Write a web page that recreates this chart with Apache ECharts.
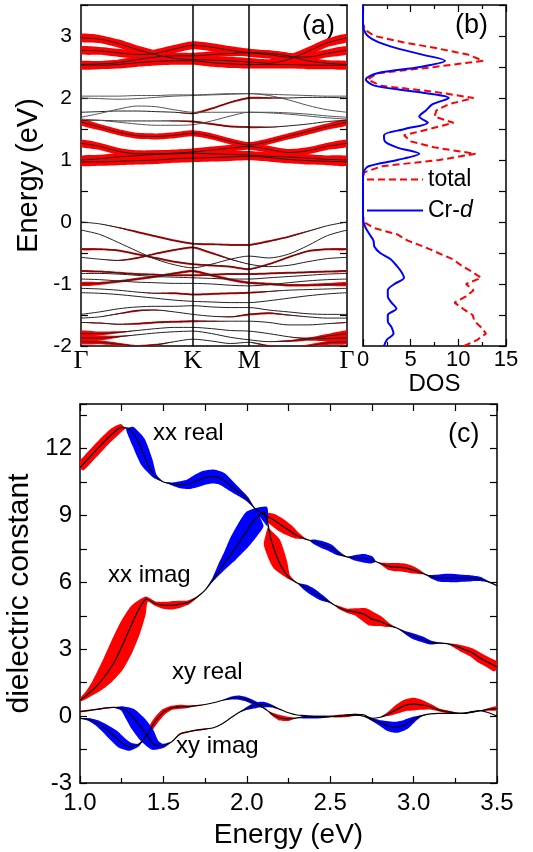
<!DOCTYPE html>
<html><head><meta charset="utf-8">
<script src="https://cdn.jsdelivr.net/npm/echarts@6/dist/echarts.min.js"></script>
<style>html,body{margin:0;padding:0;background:#fff}#c{width:533px;height:852px}</style>
</head><body><div id="c"></div><script>
// ---------- panel (a): band structure ----------
const kPath = [0, 0.070, 0.140, 0.211, 0.281, 0.351, 0.421, 0.491, 0.562, 0.632, 0.706, 0.779, 0.853, 0.926, 1.0];
const highSymK = [0, 0.421, 0.632, 1.0];
const highSymLabels = ['Γ', 'K', 'M', 'Γ'];

const conductionBands = [
  [2.97, 2.95, 2.88, 2.78, 2.70, 2.64, 2.62, 2.61, 2.60, 2.58, 2.56, 2.62, 2.75, 2.89, 2.97],
  [2.77, 2.76, 2.73, 2.70, 2.72, 2.79, 2.85, 2.82, 2.77, 2.73, 2.70, 2.66, 2.66, 2.72, 2.77],
  [2.54, 2.55, 2.57, 2.62, 2.66, 2.68, 2.68, 2.70, 2.72, 2.73, 2.72, 2.68, 2.60, 2.56, 2.54],
  [2.53, 2.53, 2.54, 2.57, 2.59, 2.60, 2.60, 2.57, 2.55, 2.54, 2.54, 2.54, 2.53, 2.53, 2.53],
  [2.03, 2.03, 2.03, 2.04, 2.04, 2.05, 2.05, 2.06, 2.07, 2.07, 2.06, 2.05, 2.04, 2.03, 2.03],
  [2.00, 1.99, 1.98, 1.99, 2.01, 2.03, 2.04, 2.05, 2.06, 2.07, 2.04, 1.97, 1.88, 1.81, 1.77],
  [1.77, 1.78, 1.79, 1.79, 1.78, 1.77, 1.75, 1.83, 1.93, 2.00, 2.00, 2.00, 2.01, 2.01, 2.00],
  [1.69, 1.75, 1.82, 1.87, 1.86, 1.81, 1.77, 1.77, 1.77, 1.77, 1.77, 1.76, 1.74, 1.71, 1.69],
  [1.64, 1.64, 1.63, 1.63, 1.63, 1.63, 1.62, 1.58, 1.54, 1.53, 1.53, 1.55, 1.58, 1.62, 1.64],
  [1.66, 1.64, 1.61, 1.58, 1.56, 1.56, 1.57, 1.63, 1.71, 1.77, 1.76, 1.74, 1.71, 1.68, 1.66],
  [1.61, 1.53, 1.45, 1.39, 1.38, 1.40, 1.43, 1.38, 1.30, 1.24, 1.30, 1.38, 1.46, 1.54, 1.61],
  [1.27, 1.22, 1.14, 1.10, 1.10, 1.11, 1.13, 1.16, 1.19, 1.22, 1.17, 1.12, 1.15, 1.22, 1.27],
  [1.00, 1.02, 1.05, 1.07, 1.09, 1.10, 1.11, 1.10, 1.09, 1.08, 1.06, 1.05, 1.03, 1.01, 1.00],
  [0.97, 0.97, 0.98, 0.99, 1.00, 1.02, 1.03, 1.04, 1.05, 1.06, 1.04, 1.01, 0.99, 0.98, 0.97]
];
const conductionWeights = [
  8, 8, 6, 8, 0, 0,
  [0, 0, 0, 0, 0, 0, 1.5, 2, 2, 2, 1.5, 0, 0, 0, 0],
  0,
  [0, 0, 0, 0, 0, 1, 2, 2, 2, 2, 1, 0, 0, 0, 0],
  0, 6, 7, 8, 8
];

const valenceBands = [
  [0.00, -0.03, -0.09, -0.16, -0.23, -0.30, -0.35, -0.36, -0.37, -0.37, -0.31, -0.24, -0.15, -0.06, 0.00],
  [-0.13, -0.20, -0.33, -0.47, -0.60, -0.69, -0.74, -0.68, -0.60, -0.55, -0.58, -0.52, -0.38, -0.22, -0.13],
  [-0.44, -0.44, -0.46, -0.52, -0.58, -0.64, -0.68, -0.70, -0.72, -0.76, -0.68, -0.57, -0.47, -0.44, -0.44],
  [-0.57, -0.60, -0.62, -0.58, -0.51, -0.45, -0.41, -0.50, -0.60, -0.68, -0.72, -0.70, -0.64, -0.59, -0.57],
  [-0.79, -0.80, -0.82, -0.84, -0.85, -0.86, -0.86, -0.85, -0.84, -0.84, -0.83, -0.82, -0.81, -0.80, -0.79],
  [-0.83, -0.83, -0.84, -0.86, -0.88, -0.89, -0.90, -0.91, -0.92, -0.92, -0.90, -0.88, -0.86, -0.84, -0.83],
  [-1.00, -0.99, -0.96, -0.92, -0.88, -0.83, -0.79, -0.86, -0.93, -0.98, -1.00, -1.02, -1.02, -1.01, -1.00],
  [-0.92, -0.93, -0.95, -0.97, -0.98, -0.99, -0.99, -1.00, -1.02, -1.03, -1.01, -0.98, -0.95, -0.93, -0.92],
  [-1.07, -1.08, -1.10, -1.13, -1.15, -1.15, -1.17, -1.16, -1.15, -1.14, -1.12, -1.10, -1.09, -1.08, -1.07],
  [-1.14, -1.15, -1.17, -1.20, -1.23, -1.26, -1.28, -1.29, -1.30, -1.30, -1.27, -1.23, -1.19, -1.16, -1.14],
  [-1.49, -1.45, -1.40, -1.37, -1.36, -1.36, -1.35, -1.37, -1.38, -1.38, -1.42, -1.45, -1.48, -1.49, -1.49],
  [-1.55, -1.53, -1.48, -1.43, -1.42, -1.45, -1.49, -1.52, -1.53, -1.49, -1.47, -1.50, -1.53, -1.55, -1.55],
  [-1.62, -1.63, -1.65, -1.64, -1.62, -1.61, -1.60, -1.60, -1.60, -1.60, -1.62, -1.66, -1.66, -1.64, -1.62],
  [-1.80, -1.80, -1.78, -1.75, -1.72, -1.70, -1.70, -1.72, -1.75, -1.76, -1.80, -1.85, -1.88, -1.84, -1.80],
  [-1.87, -1.87, -1.85, -1.82, -1.79, -1.77, -1.76, -1.80, -1.86, -1.90, -1.93, -1.92, -1.89, -1.88, -1.87],
  [-1.93, -1.94, -1.97, -2.00, -1.98, -1.93, -1.89, -1.92, -1.96, -1.94, -2.00, -2.05, -2.00, -1.95, -1.93]
];
const valenceWeights = [
  [0, 0, 1, 2, 2, 2, 2, 2, 2, 2, 2, 2, 1, 0, 0],
  0,
  2,
  [0, 0, 1, 2, 2, 2, 2, 2, 1, 0, 0, 0, 0, 0, 0],
  2,
  0,
  [4, 3, 2.5, 2.5, 2.5, 2.5, 2.5, 2.5, 2.5, 2.5, 2.5, 2.5, 2.5, 3, 4],
  0,
  [0, 0, 0, 0, 1, 2, 2, 2, 2, 2, 1, 0, 0, 0, 0],
  0,
  0,
  [0, 0, 1, 2, 1, 0, 0, 0, 1, 2, 2, 1, 0, 0, 0],
  [1, 1, 1, 2, 2, 2, 2, 1, 0, 0, 0, 0, 0, 0, 1],
  [6, 4, 2, 0, 0, 0, 0, 0, 0, 0, 0, 0, 2, 4, 6],
  [6, 5, 2, 0, 0, 0, 0, 0, 0, 0, 0, 2, 3, 5, 6],
  [5, 4, 3, 2, 2, 0, 0, 0, 0, 0, 2, 2, 3, 4, 5]
];

// ---------- panel (b): DOS ----------
const dosEnergy = [-2.0,-1.9,-1.8,-1.7,-1.6,-1.5,-1.4,-1.3,-1.2,-1.1,-1.0,-0.9,-0.8,-0.7,-0.6,-0.5,-0.4,-0.3,-0.2,-0.1,
  0.0,0.1,0.2,0.3,0.4,0.5,0.6,0.7,0.8,0.9,1.0,1.1,1.2,1.3,1.4,1.5,1.6,1.7,1.8,1.9,
  2.0,2.1,2.2,2.3,2.4,2.5,2.6,2.7,2.8,2.9,3.0,3.1,3.2,3.3,3.4,3.5];
const dosTotal = [10.6,12.0,12.9,12.4,11.7,11.5,10.5,9.6,10.8,11.6,10.8,12.4,11.4,10.3,9.4,7.9,6.4,4.7,3.6,1.2,
  0.1,0,0,0,0,0,0,0,0.1,2.0,8.0,11.8,7.6,5.0,4.3,7.0,9.5,7.5,7.7,9.0,
  11.6,7.5,1.8,0.5,1.5,7.5,12.6,11.0,7.8,4.2,1.2,0.2,0,0,0,0];
const dosCrD = [2.2,2.5,3.2,3.0,2.6,2.6,3.5,3.0,2.6,2.6,3.3,4.3,4.0,3.5,2.9,1.8,1.2,1.1,0.7,0.3,
  0.05,0,0,0,0,0,0,0,0.05,0.6,3.6,5.9,3.6,2.3,2.2,4.4,6.8,5.9,6.6,7.3,
  9.0,5.6,1.2,0.3,1.5,6.0,8.6,6.2,3.6,1.6,0.5,0.1,0,0,0,0];

// ---------- panel (c): dielectric constant ----------
const photonEnergy = [1.00,1.05,1.10,1.15,1.20,1.25,1.30,1.35,1.40,1.45,1.50,1.55,1.60,1.65,1.70,1.75,1.80,1.85,1.90,1.95,
  2.00,2.05,2.10,2.15,2.20,2.25,2.30,2.35,2.40,2.45,2.50,2.55,2.60,2.65,2.70,2.75,2.80,2.85,2.90,2.95,
  3.00,3.05,3.10,3.15,3.20,3.25,3.30,3.35,3.40,3.45,3.50];
const xxReal = [11.15,11.55,11.95,12.35,12.70,12.95,12.85,12.30,11.40,10.75,10.50,10.42,10.38,10.40,10.55,10.70,10.75,10.65,10.35,10.05,
  9.75,9.30,9.05,8.85,8.60,8.35,8.10,7.95,7.83,7.70,7.55,7.30,7.14,7.10,7.08,7.00,6.85,6.72,6.68,6.65,
  6.55,6.42,6.27,6.20,6.20,6.19,6.18,6.18,6.15,6.02,5.85];
const xxRealWeight = [6,7,7,7,7,5,-6,-10,-9,-3,0,-2,-5,-7,-9,-10,-10,-9,-7,-5,
  -3,0,4,8,9,8,5,1,-3,-5,-5,-3,0,-4,-6,-5,1,5,6,6,
  5,2,-2,-5,-6,-6,-5,-4,-3,-1,0];
const xxImag = [0.71,1.00,1.35,1.80,2.35,3.10,3.95,4.75,5.25,5.05,4.97,4.97,5.02,5.10,5.33,5.65,6.15,6.70,7.20,7.75,
  8.30,8.85,9.15,7.80,6.80,6.25,5.98,5.78,5.55,5.30,5.10,4.88,4.73,4.68,4.58,4.35,4.25,4.08,3.95,3.75,
  3.58,3.45,3.30,3.28,3.25,3.15,3.00,2.85,2.60,2.40,2.20];
const xxImagWeight = [2,5,9,13,16,17,16,12,4,3,5,6,5,3,1,0,-2,-6,-10,-14,
  -16,-16,-9,12,11,3,0,-4,-5,-4,-1,2,3,5,9,10,7,3,0,-2,
  -4,-4,-3,-1,0,3,5,6,7,7,7];
const xyReal = [-0.10,-0.15,-0.30,-0.55,-0.85,-1.20,-1.37,-1.30,-0.85,-0.25,0.18,0.37,0.42,0.43,0.47,0.52,0.60,0.70,0.80,0.83,
  0.75,0.58,0.38,0.10,-0.08,-0.12,-0.08,-0.04,-0.04,-0.03,-0.01,0.00,0.05,0.08,0.06,-0.10,-0.05,0.10,0.30,0.48,
  0.54,0.50,0.42,0.28,0.20,0.14,0.12,0.18,0.24,0.30,0.35];
const xyRealWeight = [0,-2,-4,-6,-8,-8,-6,-2,3,4,4,3,3,2,1,0,0,0,-2,-3,
  -3,-3,-1,2,4,3,0,-2,-2,-2,-1,0,1,1,0,0,0,3,6,8,
  9,7,4,2,2,1,0,-1,0,2,3];
const xyImag = [0.20,0.25,0.30,0.36,0.39,0.35,0.10,-0.35,-0.85,-1.30,-1.33,-1.15,-0.80,-0.70,-0.63,-0.58,-0.52,-0.35,-0.10,0.15,
  0.34,0.48,0.52,0.45,0.30,0.15,0.05,0.02,-0.02,-0.03,-0.02,0.00,0.02,0.04,0.00,-0.15,-0.30,-0.45,-0.50,-0.38,
  -0.15,0.02,0.10,0.12,0.12,0.12,0.13,0.20,0.25,0.15,0.00];
const xyImagWeight = [1,1,1,1,0,-3,-9,-12,-12,-8,-3,0,1,1,1,1,0,0,0,0,
  -2,-4,-4,-2,0,0,0,0,0,0,1,2,2,1,0,-2,-4,-7,-8,-7,
  -4,-1,0,0,0,0,0,0,0,0,0];

const RED = '#ff0000', BLUE = '#0000ff';
const FONT = 'Liberation Sans';
const FAT_A = 1.0, FAT_C = 1.4;   // pixel width per unit weight

// ribbon (fat band) polygons, built from data through api.coord
function ribbonPolys(api, xs, ys, ws, scale, pos, neg) {
  const P = xs.map((x, i) => api.coord([x, ys[i]]));
  const runs = [];
  let cur = null;
  for (let i = 0; i < P.length; i++) {
    const w = ws[i] * scale;
    const s = Math.sign(w);
    if (s === 0) {
      if (cur) { cur.pts.push([P[i], 0]); runs.push(cur); cur = null; }
      continue;
    }
    if (cur && cur.s !== s) {
      const m = [(P[i - 1][0] + P[i][0]) / 2, (P[i - 1][1] + P[i][1]) / 2];
      cur.pts.push([m, 0]); runs.push(cur);
      cur = { s, pts: [[m, 0]] };
    } else if (!cur) {
      cur = { s, pts: [] };
      if (i > 0) cur.pts.push([P[i - 1], 0]);
    }
    cur.pts.push([P[i], Math.abs(w)]);
  }
  if (cur) runs.push(cur);
  return runs.filter(r => r.pts.length > 1).map(r => {
    const n = r.pts.length, up = [], lo = [];
    for (let j = 0; j < n; j++) {
      const a = r.pts[Math.max(j - 1, 0)][0], b = r.pts[Math.min(j + 1, n - 1)][0];
      let tx = b[0] - a[0], ty = b[1] - a[1];
      const L = Math.hypot(tx, ty) || 1; tx /= L; ty /= L;
      const h = r.pts[j][1] / 2, p = r.pts[j][0];
      up.push([p[0] - ty * h, p[1] + tx * h]);
      lo.push([p[0] + ty * h, p[1] - tx * h]);
    }
    return { type: 'polygon', shape: { points: up.concat(lo.reverse()), smooth: 0.2 },
      style: { fill: r.s > 0 ? pos : neg } };
  });
}
function ribbonSeries(xi, yi, curves, anchor, scale) {
  return {
    type: 'custom', xAxisIndex: xi, yAxisIndex: yi, z: 1, clip: true, silent: true,
    data: [anchor],
    renderItem: (params, api) => ({
      type: 'group',
      children: curves.flatMap(c => ribbonPolys(api, c.x, c.y, c.w, scale, c.pos, c.neg))
    })
  };
}
const expandW = (w, n) => Array.isArray(w) ? w : new Array(n).fill(w);

const series = [];
// panel a
const allBands = conductionBands.concat(valenceBands);
const allWeights = conductionWeights.concat(valenceWeights);
series.push(ribbonSeries(0, 0, allBands.map((b, i) => ({
  x: kPath, y: b, w: expandW(allWeights[i], kPath.length), pos: RED, neg: RED
})), [0.5, 0], FAT_A));
allBands.forEach((b, i) => {
  const s = {
    type: 'line', xAxisIndex: 0, yAxisIndex: 0, z: 2, silent: true, showSymbol: false, smooth: 0.3,
    data: b.map((e, j) => [kPath[j], e]),
    lineStyle: { color: i < 10 && conductionWeights[i] === 0 ? '#555' : '#222', width: 1 }
  };
  if (i === 0) {
    s.markLine = { symbol: 'none', silent: true, label: { show: false }, animation: false,
      lineStyle: { color: '#000', width: 1.5, type: 'solid' },
      data: highSymK.slice(1, 3).map(k => ({ xAxis: k })) };
  }
  series.push(s);
});
// panel b
series.push({ name: 'total', type: 'line', xAxisIndex: 2, yAxisIndex: 2, symbol: 'none', smooth: false, silent: true,
  data: dosEnergy.map((e, i) => [dosTotal[i], e]), lineStyle: { color: RED, width: 2, type: [7, 4] }, itemStyle: { color: RED } });
series.push({ name: 'Cr-d', type: 'line', xAxisIndex: 2, yAxisIndex: 2, symbol: 'none', smooth: 0.3, silent: true,
  data: dosEnergy.map((e, i) => [dosCrD[i], e]), lineStyle: { color: BLUE, width: 2 }, itemStyle: { color: BLUE } });
// panel c
const cCurves = [[xxReal, xxRealWeight], [xxImag, xxImagWeight], [xyReal, xyRealWeight], [xyImag, xyImagWeight]];
series.push(ribbonSeries(4, 4, cCurves.map(c => ({ x: photonEnergy, y: c[0], w: c[1], pos: RED, neg: BLUE })), [2, 5], FAT_C));
cCurves.forEach(c => series.push({
  type: 'line', xAxisIndex: 4, yAxisIndex: 4, z: 2, silent: true, showSymbol: false, smooth: 0.3,
  data: photonEnergy.map((e, i) => [e, c[0][i]]), lineStyle: { color: '#000', width: 1.2 }
}));

const axLine = { show: true, onZero: false, lineStyle: { color: '#000', width: 1.5 } };
const tick = (len) => ({ show: true, inside: true, length: len, lineStyle: { color: '#000', width: 1.2 } });
const minor = (len) => ({ show: true, splitNumber: 2, length: len, lineStyle: { color: '#000', width: 1.2 } });
const noLab = { show: false };
const lab = (size, margin, extra) => Object.assign({ color: '#000', fontSize: size, fontFamily: FONT, margin }, extra || {});
const nameStyle = (size) => ({ color: '#000', fontSize: size, fontFamily: FONT });

const option = {
  animation: false,
  backgroundColor: '#fff',
  grid: [
    { left: 81, top: 5, width: 266, height: 341, outerBoundsMode: 'none' },
    { left: 363, top: 5, width: 143, height: 341, outerBoundsMode: 'none' },
    { left: 80, top: 404, width: 417, height: 379, outerBoundsMode: 'none' }
  ],
  xAxis: [
    { gridIndex: 0, type: 'value', min: 0, max: 1, axisLine: axLine, axisTick: { show: false }, splitLine: { show: false },
      axisLabel: lab(26, 2, { fontFamily: 'Liberation Serif', customValues: highSymK,
        formatter: v => { const i = highSymK.findIndex(k => Math.abs(k - v) < 1e-6); return i >= 0 ? highSymLabels[i] : ''; } }) },
    { gridIndex: 0, type: 'value', position: 'top', min: 0, max: 1, axisLine: axLine, axisTick: { show: false }, axisLabel: noLab, splitLine: { show: false } },
    { gridIndex: 1, type: 'value', min: 0, max: 15, interval: 5, axisLine: axLine, axisTick: tick(7), minorTick: minor(4),
      splitLine: { show: false }, minorSplitLine: { show: false }, axisLabel: lab(22, 3),
      name: 'DOS', nameLocation: 'middle', nameGap: 24, nameTextStyle: nameStyle(24) },
    { gridIndex: 1, type: 'value', position: 'top', min: 0, max: 15, interval: 5, axisLine: axLine, axisTick: tick(7), minorTick: minor(4),
      splitLine: { show: false }, axisLabel: noLab },
    { gridIndex: 2, type: 'value', min: 1, max: 3.5, interval: 0.5, axisLine: axLine, axisTick: tick(7), minorTick: minor(5),
      splitLine: { show: false }, minorSplitLine: { show: false }, axisLabel: lab(24, 8, { formatter: v => v.toFixed(1) }),
      name: 'Energy (eV)', nameLocation: 'middle', nameGap: 38, nameTextStyle: nameStyle(28) },
    { gridIndex: 2, type: 'value', position: 'top', min: 1, max: 3.5, interval: 0.5, axisLine: axLine, axisTick: tick(7), minorTick: minor(7),
      splitLine: { show: false }, axisLabel: noLab }
  ],
  yAxis: [
    { gridIndex: 0, type: 'value', min: -2, max: 3.5, interval: 0.5, axisLine: axLine, axisTick: tick(7), splitLine: { show: false },
      axisLabel: lab(21, 9, { formatter: v => Number.isInteger(v) ? String(v) : '' }),
      name: 'Energy (eV)', nameLocation: 'middle', nameGap: 38, nameTextStyle: nameStyle(29) },
    { gridIndex: 0, type: 'value', position: 'right', min: -2, max: 3.5, interval: 0.5, axisLine: axLine, axisTick: tick(7), axisLabel: noLab, splitLine: { show: false } },
    { gridIndex: 1, type: 'value', min: -2, max: 3.5, interval: 0.5, axisLine: axLine, axisTick: { show: false }, axisLabel: noLab, splitLine: { show: false } },
    { gridIndex: 1, type: 'value', position: 'right', min: -2, max: 3.5, interval: 0.5, axisLine: axLine, axisTick: tick(7), axisLabel: noLab, splitLine: { show: false } },
    { gridIndex: 2, type: 'value', min: -3, max: 14, interval: 1.5, axisLine: axLine, axisTick: tick(7), splitLine: { show: false },
      axisLabel: lab(24, 8, { formatter: v => (Math.abs(v % 3) < 1e-6 ? String(v) : '') }),
      name: 'dielectric constant', nameLocation: 'middle', nameGap: 42, nameTextStyle: nameStyle(30) },
    { gridIndex: 2, type: 'value', position: 'right', min: -3, max: 14, interval: 1.5, axisLine: axLine, axisTick: tick(7), axisLabel: noLab, splitLine: { show: false } }
  ],
  legend: {
    left: 366, top: 168, orient: 'vertical', itemWidth: 56, itemHeight: 14, itemGap: 8, padding: 0,
    selectedMode: false, data: ['total', 'Cr-d'],
    itemStyle: { opacity: 0 },
    textStyle: { color: '#000', fontSize: 23, fontFamily: FONT, rich: { i: { fontStyle: 'italic', fontSize: 23, fontFamily: FONT } } },
    formatter: n => n === 'Cr-d' ? 'Cr-{i|d}' : n
  },
  graphic: [
    { type: 'text', left: 302, top: 13, style: { text: '(a)', font: '27px "Liberation Sans"', fill: '#000' } },
    { type: 'text', left: 455, top: 12, style: { text: '(b)', font: '27px "Liberation Sans"', fill: '#000' } },
    { type: 'text', left: 448, top: 421, style: { text: '(c)', font: '27px "Liberation Sans"', fill: '#000' } },
    { type: 'text', left: 153, top: 421, style: { text: 'xx real', font: '24px "Liberation Sans"', fill: '#000' } },
    { type: 'text', left: 108, top: 563, style: { text: 'xx imag', font: '24px "Liberation Sans"', fill: '#000' } },
    { type: 'text', left: 172, top: 660, style: { text: 'xy real', font: '24px "Liberation Sans"', fill: '#000' } },
    { type: 'text', left: 176, top: 734, style: { text: 'xy imag', font: '24px "Liberation Sans"', fill: '#000' } }
  ],
  series
};
const chart = echarts.init(document.getElementById('c'), null, { renderer: 'canvas' });
chart.setOption(option);
</script></body></html>
